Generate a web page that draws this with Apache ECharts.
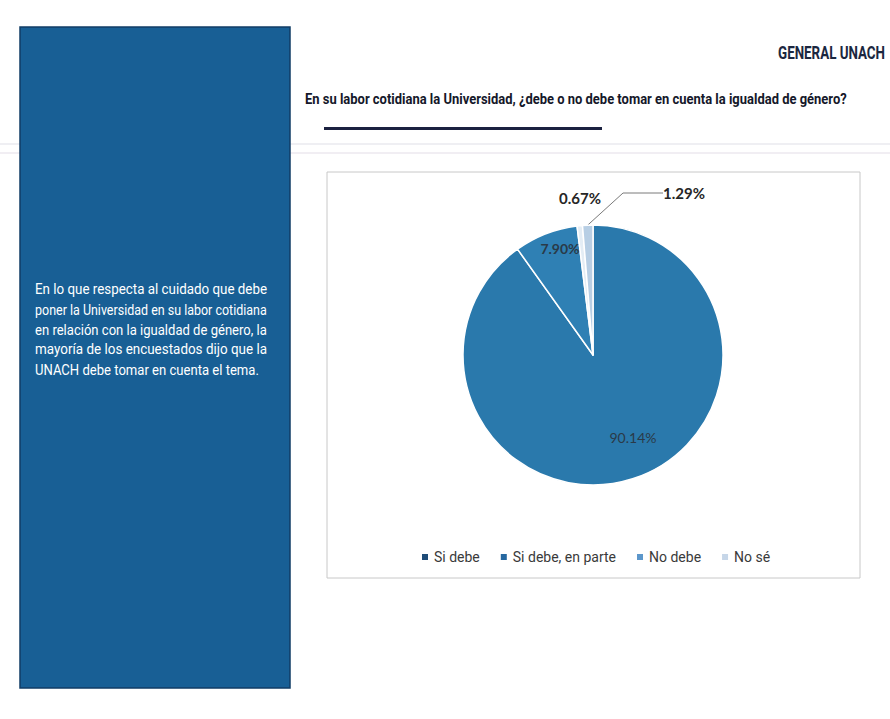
<!DOCTYPE html>
<html>
<head>
<meta charset="utf-8">
<script src="https://cdn.jsdelivr.net/npm/echarts@6/dist/echarts.min.js"></script>
<style>
html,body{margin:0;padding:0;background:#fff;}
#chart{width:890px;height:719px;}
</style>
</head>
<body>
<div id="chart"></div>
<script>
const categories = ['Si debe', 'Si debe, en parte', 'No debe', 'No sé'];
const values = [90.14, 7.90, 0.67, 1.29];
const sliceColors = ['#2a79ac', '#2f80b4', '#e4edf5', '#b7cee4'];
const legendColors = ['#1e4c78', '#2668a0', '#5c97cb', '#c6d6e8'];
const headerText = 'GENERAL UNACH';
const questionText = 'En su labor cotidiana la Universidad, ¿debe o no debe tomar en cuenta la igualdad de género?';
const panelLines = [
  'En lo que respecta al cuidado que debe',
  'poner la Universidad en su labor cotidiana',
  'en relación con la igualdad de género, la',
  'mayoría de los encuestados dijo que la',
  'UNACH debe tomar en cuenta el tema.'
];

const BASEF = 'Roboto, "Open Sans", sans-serif';
const LABELF = 'Lato, "Open Sans", sans-serif';

const measureCtx = document.createElement('canvas').getContext('2d');
function textWidth(t, font) { measureCtx.font = font; return measureCtx.measureText(t).width; }

// condensed text: draw a normal font and squeeze it horizontally to a target width
function squeezed(t, font, x, y, targetW, fill, align) {
  const w = textWidth(t, font);
  const s = targetW / w;
  return {type: 'text', x: x, y: y, scaleX: s, scaleY: 1, z: 3,
    style: {text: t, font: font, fill: fill, align: align || 'left', verticalAlign: 'middle'}};
}

const chart = echarts.init(document.getElementById('chart'), null, {renderer: 'svg'});

const headerFont = 'bold 19px ' + BASEF;
const questionFont = 'bold 15.5px ' + BASEF;
const panelFont = '15.5px ' + BASEF;

const graphics = [
  {type: 'rect', shape: {x: 20, y: 27, width: 270, height: 661},
   style: {fill: '#185f95', stroke: '#103d66', lineWidth: 1.5}, z: 1},
  {type: 'line', shape: {x1: 0, y1: 144, x2: 890, y2: 144}, style: {stroke: '#efeff3', lineWidth: 2}, z: 0},
  {type: 'line', shape: {x1: 0, y1: 153, x2: 890, y2: 153}, style: {stroke: '#f1eef3', lineWidth: 2}, z: 0},
  squeezed(headerText, headerFont, 885, 53, 107, '#1b2740', 'right'),
  squeezed(questionText, questionFont, 305, 99, 542, '#15182a', 'left'),
  {type: 'rect', shape: {x: 324, y: 127, width: 278, height: 3}, style: {fill: '#1b2140'}, z: 3},
  {type: 'rect', shape: {x: 327, y: 172, width: 533, height: 406},
   style: {fill: '#ffffff', stroke: '#c8c8c8', lineWidth: 1}, z: 1}
];
let scales = [];
panelLines.forEach(function (t, i) {
  if (i < panelLines.length - 1) scales.push(232 / textWidth(t, panelFont));
});
const avgScale = scales.reduce(function (a, b) { return a + b; }, 0) / scales.length;
panelLines.forEach(function (t, i) {
  const target = i < panelLines.length - 1 ? 232 : textWidth(t, panelFont) * avgScale;
  graphics.push(squeezed(t, panelFont, 35, 289 + i * 20.2, target, '#ffffff', 'left'));
});

chart.setOption({
  animation: false,
  backgroundColor: '#ffffff',
  graphic: graphics,
  legend: {
    left: 415, top: 545,
    itemWidth: 8, itemHeight: 8, itemGap: 19,
    icon: 'rect',
    textStyle: {fontSize: 14, color: '#3a3a3a', fontFamily: BASEF},
    data: categories.map(function (c, i) {
      return {name: c, itemStyle: {color: legendColors[i]}};
    })
  },
  series: [{
    type: 'pie',
    center: [593, 355],
    radius: 130,
    startAngle: 90,
    clockwise: true,
    z: 5,
    itemStyle: {borderColor: '#ffffff', borderWidth: 1.5},
    data: categories.map(function (c, i) {
      const d = {name: c, value: values[i], itemStyle: {color: sliceColors[i]}};
      if (i < 2) {
        d.label = {position: 'inside', color: '#2a3a48', fontWeight: i === 0 ? 'normal' : 'bold', fontSize: 14};
      } else {
        d.label = {position: 'outside', color: '#262626', fontWeight: 'bold', fontSize: 15};
        if (i === 3) d.labelLine = {show: true, lineStyle: {color: '#7a7a7a', width: 1}, length: 10, length2: 40};
      }
      return d;
    }),
    label: {
      formatter: function (p) { return p.value.toFixed(2) + '%'; },
      fontFamily: LABELF, fontSize: 14
    },
    labelLine: {show: false},
    labelLayout: function (p) {
      if (p.dataIndex === 0) return {x: 633, y: 437, align: 'center', verticalAlign: 'middle'};
      if (p.dataIndex === 1) return {x: 560, y: 248, align: 'center', verticalAlign: 'middle'};
      if (p.dataIndex === 2) return {x: 580, y: 198, align: 'center', verticalAlign: 'middle'};
      return {x: 684, y: 193, align: 'center', verticalAlign: 'middle'};
    },
    emphasis: {disabled: true}
  }]
});
</script>
</body>
</html>
